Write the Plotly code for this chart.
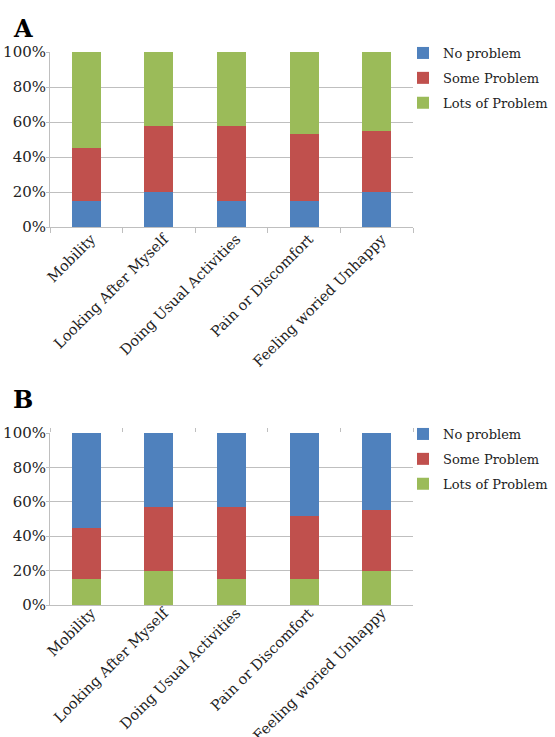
import plotly.graph_objects as go

categories = ["Mobility", "Looking After Myself", "Doing Usual Activities",
              "Pain or Discomfort", "Feeling woried Unhappy"]

# Panel A (percent)
a_no_problem = [15, 20, 15, 15, 20]
a_some_problem = [30, 38, 43, 38, 35]
a_lots_problem = [55, 42, 42, 47, 45]

# Panel B (percent)
b_lots_problem = [15, 20, 15, 15, 20]
b_some_problem = [30, 37, 42, 37, 35]
b_no_problem = [55, 43, 43, 48, 45]

y_ticks = [0, 20, 40, 60, 80, 100]
y_tick_labels = ["0%", "20%", "40%", "60%", "80%", "100%"]

BLUE = "#4F81BD"
RED = "#C0504D"
GREEN = "#9BBB59"
FONT = "DejaVu Serif"
W, H = 555, 737

fig = go.Figure()

def px_x(p):
    return p / W

def px_y(p):
    return 1 - p / H

for name, vals, col, g in [("No problem", a_no_problem, BLUE, "g1"),
                           ("Some Problem", a_some_problem, RED, "g2"),
                           ("Lots of Problem", a_lots_problem, GREEN, "g3")]:
    fig.add_trace(go.Bar(x=categories, y=vals, name=name, marker_color=col,
                         marker_line_width=0, width=0.4, xaxis="x", yaxis="y",
                         legend="legend", legendgroup=g + "a"))

b_traces = {
    "Lots of Problem": (b_lots_problem, GREEN, "g3", 3),
    "Some Problem": (b_some_problem, RED, "g2", 2),
    "No problem": (b_no_problem, BLUE, "g1", 1),
}
for name in ["Lots of Problem", "Some Problem", "No problem"]:
    vals, col, g, rank = b_traces[name]
    fig.add_trace(go.Bar(x=categories, y=vals, name=name, marker_color=col,
                         marker_line_width=0, width=0.4, xaxis="x2", yaxis="y2",
                         legend="legend2", legendgroup=g + "b", legendrank=rank))

fig.add_trace(go.Scatter(x=[None], y=[None], xaxis="x3", yaxis="y2",
                         showlegend=False, hoverinfo="skip"))

xdom = [px_x(50), px_x(413)]
ya_dom = [px_y(227), px_y(52)]
yb_dom = [px_y(605), px_y(433)]

grid = "#BFBFBF"
xfont = dict(family=FONT, size=14.5, color="#222")
yfont = dict(family=FONT, size=15, color="#222")
axis_common = dict(showline=True, linecolor=grid, linewidth=1, automargin=False)

legend_common = dict(xanchor="left", yanchor="top", traceorder="grouped",
                     tracegroupgap=5, itemwidth=30,
                     font=dict(family=FONT, size=13, color="#222"),
                     bgcolor="rgba(0,0,0,0)")

fig.update_layout(
    width=W, height=H,
    margin=dict(l=0, r=0, t=0, b=0, autoexpand=False),
    paper_bgcolor="white", plot_bgcolor="white",
    barmode="stack",
    font=dict(family=FONT, size=14, color="#222"),
    xaxis=dict(domain=xdom, anchor="y", type="category", tickangle=-45,
               tickson="boundaries", ticks="outside", ticklen=5, tickcolor=grid,
               ticklabelshift=5, ticklabelstandoff=-3,
               showgrid=False, tickfont=xfont, **axis_common),
    yaxis=dict(domain=ya_dom, anchor="x", range=[0, 100], tickvals=y_ticks,
               ticktext=y_tick_labels, showgrid=True, gridcolor=grid,
               ticks="outside", ticklen=3, tickcolor=grid, zeroline=False,
               ticklabelstandoff=-3, tickfont=yfont, **axis_common),
    xaxis2=dict(domain=xdom, anchor="y2", type="category", tickangle=-45,
                ticks="", showgrid=False, tickfont=xfont,
                ticklabelshift=5, ticklabelstandoff=-7, **axis_common),
    yaxis2=dict(domain=yb_dom, anchor="x2", range=[0, 100], tickvals=y_ticks,
                ticktext=y_tick_labels, showgrid=True, gridcolor=grid,
                ticks="outside", ticklen=3, tickcolor=grid, zeroline=False,
                ticklabelstandoff=-3, tickfont=yfont, **axis_common),
    xaxis3=dict(overlaying="x2", anchor="y2", side="top", range=[-0.5, 4.5],
                tickvals=[-0.5, 0.5, 1.5, 2.5, 3.5, 4.5], ticks="outside",
                ticklen=4, tickcolor=grid, showticklabels=False, showgrid=False,
                showline=False, zeroline=False),
    legend=dict(x=px_x(403), y=px_y(38), **legend_common),
    legend2=dict(x=px_x(403), y=px_y(419), **legend_common),
    annotations=[
        dict(text="<b>A</b>", x=px_x(11), y=px_y(12), xref="paper", yref="paper",
             xanchor="left", yanchor="top", showarrow=False,
             font=dict(family=FONT, size=24, color="black")),
        dict(text="<b>B</b>", x=px_x(11), y=px_y(383), xref="paper", yref="paper",
             xanchor="left", yanchor="top", showarrow=False,
             font=dict(family=FONT, size=24, color="black")),
    ],
)

fig.write_html("out.html", config={"displayModeBar": False},
               post_script="document.body.style.margin='0';"
                           "document.body.style.overflow='hidden';")
